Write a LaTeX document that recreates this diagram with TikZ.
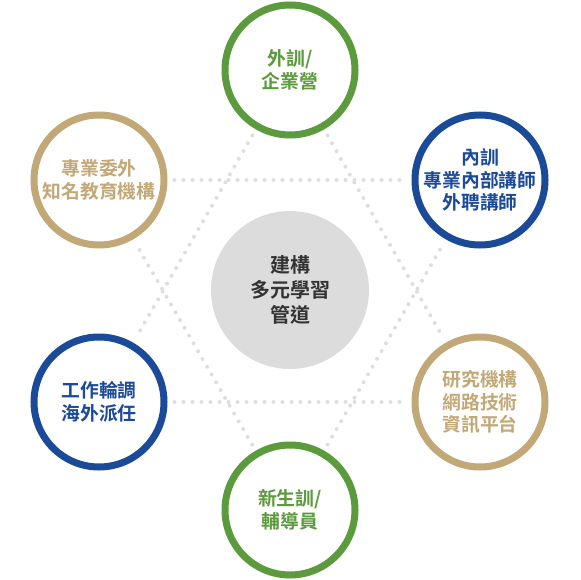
\documentclass[tikz,border=0pt]{standalone}
\usepackage{fontspec}
\setmainfont{Noto Sans CJK TC}[BoldFont={* Bold}]
\usetikzlibrary{backgrounds}
\definecolor{trgreen}{HTML}{5B9A3D}
\definecolor{trblue}{HTML}{1B4A98}
\definecolor{trtan}{HTML}{C2A877}
\definecolor{trgray}{HTML}{DCDCDC}
\definecolor{trtext}{HTML}{333333}
\definecolor{trdots}{HTML}{DEDEDE}

\begin{document}
\begin{tikzpicture}[x=1pt,y=-1pt,
    ring/.style={circle,draw=#1,text=#1,line width=7pt,fill=white,
        minimum size=130pt,inner sep=0pt,align=center,
        font=\fontsize{18.8}{22.5}\selectfont\bfseries},
    hub/.style={circle,fill=trgray,minimum size=158pt,inner sep=0pt,
        align=center,text=trtext,font=\fontsize{20}{25}\selectfont\bfseries},
    dots/.style={trdots,line width=4pt,line cap=round,
        dash pattern=on 0pt off 9pt,shorten <=7pt,shorten >=7pt}]
    \useasboundingbox (0,0) rectangle (580,580);

    \node[hub] (hub) at (290,290) {建構\\多元學習\\管道};

    \node[ring=trgreen] (top) at (290,70) {外訓/\\企業營};
    \node[ring=trblue] (ur) at (480,180) {內訓\\專業內部講師\\外聘講師};
    \node[ring=trtan] (lr) at (480,402) {研究機構\\網路技術\\資訊平台};
    \node[ring=trgreen] (bot) at (290,510) {新生訓/\\輔導員};
    \node[ring=trblue] (ll) at (99,402) {工作輪調\\海外派任};
    \node[ring=trtan] (ul) at (99,180) {專業委外\\知名教育機構};

    % two triangles of dots behind the rings
    \begin{scope}[on background layer]
        \draw[dots] (top) -- (ll);
        \draw[dots] (top) -- (lr);
        \draw[dots] (ll) -- (lr);
        \draw[dots] (bot) -- (ul);
        \draw[dots] (bot) -- (ur);
        \draw[dots] (ul) -- (ur);
    \end{scope}
\end{tikzpicture}
\end{document}
